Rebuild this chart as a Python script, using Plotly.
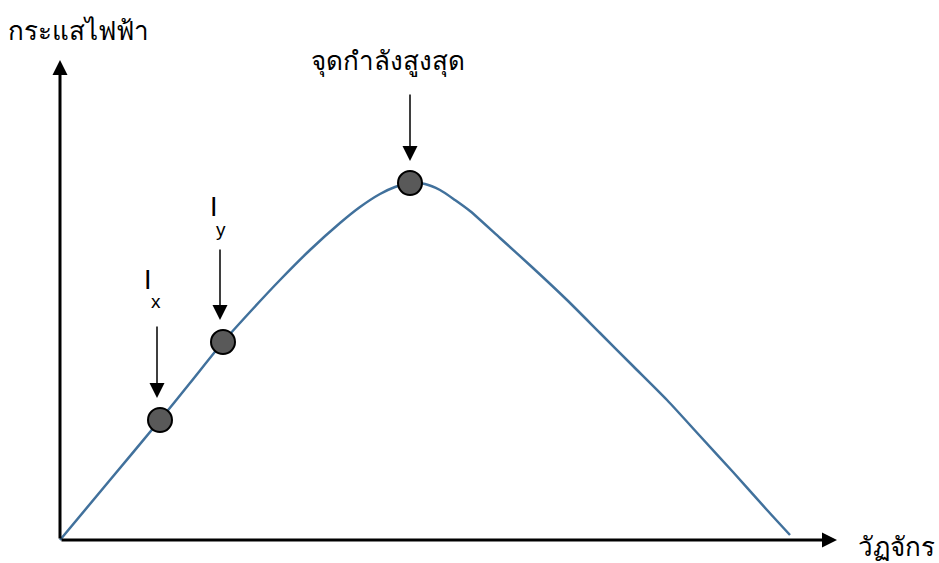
import plotly.graph_objects as go

# Current vs. cycle curve (x: cycle position, y: current), origin at (0, 0)
curve_x = [0, 50, 100, 130, 163, 190, 220, 250, 280, 300, 320, 335, 350,
           365, 380, 395, 410, 440, 473, 507, 540, 573, 607, 640, 673, 707, 730]
curve_y = [0, 60, 120, 157, 198, 228, 260, 290, 317, 333, 346, 353, 357,
           356, 350, 340, 329, 302, 272, 240, 207, 174, 140, 104, 68, 30, 5]

# Marked operating points
point_names = ["Ix", "Iy", "peak"]
point_x = [100, 163, 350]
point_y = [120, 198, 357]

FONT = "Noto Sans, Tahoma, sans-serif"
LATIN = "Liberation Sans, Arial, sans-serif"
CURVE = "#41719C"

fig = go.Figure()

fig.add_trace(go.Scatter(
    x=curve_x, y=curve_y, mode="lines",
    line=dict(color=CURVE, width=2.5, shape="spline", smoothing=0.7),
    hoverinfo="skip", showlegend=False,
))

fig.add_trace(go.Scatter(
    x=point_x, y=point_y, mode="markers", text=point_names,
    marker=dict(size=24, color="#595959", line=dict(color="#000000", width=2)),
    showlegend=False,
))

annotations = []

# Axis arrows
annotations.append(dict(x=0, y=480, ax=0, ay=0, xref="x", yref="y", axref="x", ayref="y",
                        text="", showarrow=True, arrowhead=2, arrowsize=1, arrowwidth=3,
                        arrowcolor="#000000"))
annotations.append(dict(x=777, y=0, ax=0, ay=0, xref="x", yref="y", axref="x", ayref="y",
                        text="", showarrow=True, arrowhead=2, arrowsize=1, arrowwidth=3,
                        arrowcolor="#000000"))

# Pointer arrows above the marked points
for px, py, top in zip(point_x, point_y, [215, 292, 447]):
    ox = px - 3 if px < 300 else px
    annotations.append(dict(x=ox, y=py + 22, ax=ox, ay=top,
                            xref="x", yref="y", axref="x", ayref="y",
                            text="", showarrow=True, arrowhead=2, arrowsize=2, arrowwidth=1.5,
                            arrowcolor="#000000"))

# Axis titles
annotations.append(dict(x=18, y=510, xref="x", yref="y", text="กระแสไฟฟ้า", showarrow=False,
                        font=dict(family=FONT, size=26, color="#000000")))
annotations.append(dict(x=836, y=-6, xref="x", yref="y", text="วัฏจักร", showarrow=False,
                        font=dict(family=FONT, size=26, color="#000000")))

# Point labels
annotations.append(dict(x=328, y=480, xref="x", yref="y", text="จุดกำลังสูงสุด", showarrow=False,
                        font=dict(family=FONT, size=26, color="#000000")))
annotations.append(dict(x=88, y=260, xref="x", yref="y", text="I", showarrow=False,
                        font=dict(family=LATIN, size=27, color="#000000")))
annotations.append(dict(x=96, y=239, xref="x", yref="y", text="x", showarrow=False,
                        font=dict(family=LATIN, size=19, color="#000000")))
annotations.append(dict(x=154, y=333, xref="x", yref="y", text="I", showarrow=False,
                        font=dict(family=LATIN, size=27, color="#000000")))
annotations.append(dict(x=161, y=311, xref="x", yref="y", text="y", showarrow=False,
                        font=dict(family=LATIN, size=19, color="#000000")))

fig.update_layout(
    width=939, height=563,
    margin=dict(l=0, r=0, t=0, b=0),
    paper_bgcolor="#ffffff", plot_bgcolor="#ffffff",
    xaxis=dict(range=[-60, 879], visible=False, fixedrange=True),
    yaxis=dict(range=[-23, 540], visible=False, fixedrange=True),
    annotations=annotations,
    showlegend=False,
)

fig.write_html("out.html")
